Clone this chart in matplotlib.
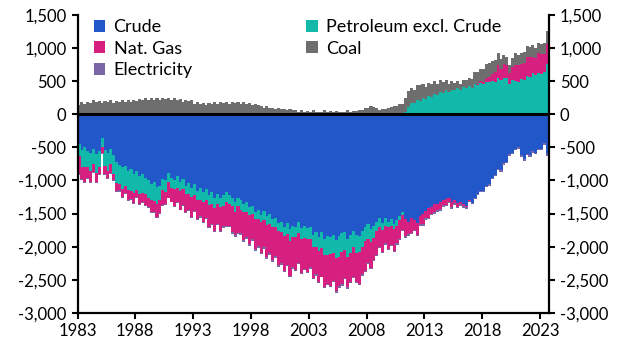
import matplotlib
matplotlib.use("Agg")
import matplotlib.pyplot as plt
import numpy as np

plt.rcParams['font.family'] = ['Lato', 'DejaVu Sans']

# quarterly values, 1983 Q1 .. 2023 Q3
crude = [
    -450, -540, -500, -560,   # 1983
    -580, -520, -600, -560,
    -360, -540, -580, -520,
    -620, -720, -760, -800,
    -780, -860, -820, -900,
    -860, -940, -900, -960,   # 1988
    -1000, -1060, -1020, -1100,
    -1080, -980, -1000, -880,
    -960, -1000, -940, -1020,
    -980, -1080, -1040, -1120,
    -1060, -1160, -1120, -1180,   # 1993
    -1130, -1220, -1180, -1260,
    -1200, -1260, -1220, -1180,
    -1220, -1260, -1320, -1260,
    -1300, -1360, -1320, -1400,
    -1380, -1480, -1440, -1520,   # 1998
    -1460, -1540, -1500, -1580,
    -1560, -1640, -1620, -1700,
    -1640, -1740, -1680, -1700,
    -1620, -1720, -1680, -1720,
    -1700, -1820, -1780, -1860,   # 2003
    -1780, -1880, -1840, -1860,
    -1820, -1900, -1840, -1800,
    -1780, -1880, -1820, -1760,
    -1820, -1840, -1760, -1700,
    -1660, -1740, -1680, -1620,   # 2008
    -1560, -1640, -1560, -1620,
    -1580, -1660, -1600, -1540,
    -1480, -1580, -1620, -1560,
    -1600, -1640, -1540, -1500,
    -1460, -1420, -1400, -1360,   # 2013
    -1360, -1320, -1300, -1280,
    -1260, -1320, -1300, -1340,
    -1320, -1360, -1380, -1300,
    -1340, -1260, -1200, -1160,
    -1160, -1080, -1060, -960,    # 2018
    -920, -820, -840, -740,
    -720, -600, -580, -520,
    -500, -620, -680, -600,
    -620, -560, -580, -520,
    -520, -440, -600,             # 2023
]

petroleum = [
    -180, -260, -300, -240,
    -280, -230, -290, -240,
    -140, -240, -280, -230,
    -280, -320, -300, -330,
    -300, -280, -340, -290,
    -280, -260, -290, -240,
    -260, -240, -290, -250,
    -220, -170, -180, -150,
    -160, -130, -170, -140,
    -150, -120, -160, -130,
    -160, -130, -170, -140,
    -160, -150, -180, -150,
    -150, -140, -170, -140,
    -140, -130, -160, -130,
    -140, -110, -150, -120,
    -130, -100, -140, -110,
    -140, -130, -160, -130,
    -140, -130, -160, -140,
    -170, -170, -180, -150,
    -170, -160, -190, -160,
    -190, -190, -230, -200,
    -240, -240, -280, -250,
    -270, -270, -310, -280,
    -270, -270, -280, -240,
    -270, -240, -250, -220,
    -230, -190, -190, -140,
    -150, -110, -120, -90,
    -110, -80, -90, -50,
    -40, 30, 110, 170,
    170, 210, 200, 250,
    230, 270, 260, 310,
    290, 330, 320, 360,
    330, 370, 360, 390,
    370, 410, 400, 420,
    390, 450, 440, 470,
    450, 490, 480, 500,
    490, 540, 510, 540,
    540, 460, 510, 500,
    480, 530, 520, 580,
    560, 620, 590, 620,
    600, 640, 760,
]

nat_gas = [
    -280, -180, -220, -170,
    -170, -120, -140, -110,
    -90, -130, -100, -130,
    -90, -120, -90, -120,
    -110, -150, -120, -150,
    -110, -150, -130, -170,
    -140, -180, -160, -200,
    -190, -220, -180, -230,
    -200, -260, -220, -280,
    -240, -280, -240, -300,
    -240, -290, -250, -310,
    -270, -330, -290, -350,
    -300, -360, -300, -360,
    -320, -390, -350, -400,
    -360, -430, -390, -440,
    -380, -450, -410, -460,
    -410, -480, -440, -490,
    -440, -510, -470, -520,
    -460, -530, -450, -500,
    -450, -510, -460, -500,
    -420, -460, -400, -470,
    -430, -490, -440, -490,
    -430, -500, -450, -490,
    -420, -460, -430, -450,
    -440, -480, -400, -440,
    -360, -390, -330, -370,
    -300, -330, -270, -330,
    -280, -320, -260, -290,
    -230, -260, -190, -230,
    -150, -180, -120, -160,
    -110, -140, -100, -120,
    -90, -110, -70, -90,
    -60, -80, -40, -60,
    -40, -30, -20, -10,
    0, 10, 20, 30,
    40, 60, 80, 100,
    150, 200, 170, 220,
    200, 160, 200, 250,
    270, 230, 260, 290,
    300, 250, 260, 310,
    310, 270, 300,
]

coal = [
    140, 180, 160, 190,
    170, 210, 180, 200,
    170, 200, 180, 210,
    170, 200, 180, 210,
    180, 210, 190, 220,
    200, 230, 210, 240,
    210, 240, 220, 250,
    220, 250, 230, 240,
    210, 240, 220, 230,
    190, 220, 200, 210,
    150, 180, 150, 170,
    140, 170, 160, 180,
    160, 190, 170, 180,
    160, 190, 170, 180,
    150, 180, 160, 170,
    140, 160, 140, 130,
    100, 120, 100, 100,
    80, 100, 80, 80,
    60, 80, 60, 60,
    40, 60, 40, 50,
    40, 60, 40, 40,
    40, 60, 40, 50,
    30, 50, 30, 40,
    40, 60, 40, 50,
    50, 70, 70, 90,
    100, 130, 110, 100,
    60, 80, 80, 100,
    110, 130, 130, 150,
    160, 210, 240, 230,
    200, 230, 240, 210,
    180, 200, 200, 190,
    170, 190, 170, 160,
    130, 130, 110, 110,
    90, 110, 110, 130,
    140, 170, 170, 190,
    190, 210, 210, 200,
    180, 180, 150, 140,
    130, 130, 140, 170,
    140, 160, 160, 160,
    150, 170, 150, 150,
    150, 170, 200,
]

electricity = [
    -10, -15, -15, -10,
    -10, -15, -15, -10,
    -15, -15, -20, -15,
    -15, -20, -20, -15,
    -15, -20, -20, -15,
    -15, -20, -20, -15,
    -15, -15, -20, -15,
    -10, -15, -15, -10,
    -10, -15, -15, -10,
    -15, -15, -20, -15,
    -15, -20, -20, -15,
    -15, -20, -25, -20,
    -20, -25, -25, -20,
    -20, -25, -25, -20,
    -20, -25, -30, -25,
    -25, -30, -30, -25,
    -25, -30, -30, -25,
    -25, -30, -30, -25,
    -20, -25, -25, -20,
    -20, -25, -25, -20,
    -20, -25, -25, -20,
    -15, -20, -20, -15,
    -20, -25, -25, -20,
    -20, -25, -25, -20,
    -20, -20, -25, -20,
    -15, -20, -20, -15,
    -15, -20, -20, -15,
    -20, -20, -25, -20,
    -20, -25, -25, -20,
    -20, -25, -25, -20,
    -20, -25, -25, -20,
    -20, -25, -25, -20,
    -20, -25, -25, -20,
    -20, -25, -25, -20,
    -20, -25, -25, -20,
    -20, -25, -25, -20,
    -20, -25, -25, -20,
    -20, -25, -25, -20,
    -20, -25, -25, -20,
    -20, -25, -25, -20,
    -20, -25, -25,
]

series = [
    ("Crude", crude, "#2157c9"),
    ("Nat. Gas", nat_gas, "#d61f7f"),
    ("Electricity", electricity, "#7b66a8"),
    ("Petroleum excl. Crude", petroleum, "#10b9a9"),
    ("Coal", coal, "#6e6e6e"),
]
# stacking order: crude, petroleum, gas, coal, electricity
stack_order = [0, 3, 1, 4, 2]

n = len(crude)
x = 1983 + 0.125 + 0.25 * np.arange(n)

fig = plt.figure(figsize=(6.25, 3.54), dpi=100)
ax = fig.add_axes([0.124, 0.116, 0.754, 0.842])

pos_base = np.zeros(n)
neg_base = np.zeros(n)
handles = {}
for i in stack_order:
    name, vals, col = series[i]
    v = np.array(vals, dtype=float)
    bottom = np.where(v >= 0, pos_base, neg_base)
    b = ax.bar(x, v, width=0.27, bottom=bottom, color=col, linewidth=0, label=name)
    handles[i] = b
    pos_base = pos_base + np.where(v >= 0, v, 0)
    neg_base = neg_base + np.where(v < 0, v, 0)

ax.axhline(0, color="black", lw=2.2, zorder=5)

ax.set_xlim(1983, 2023.75)
ax.set_ylim(-3000, 1500)
ax.set_xticks(range(1983, 2024, 5))
ax.set_yticks(range(-3000, 1501, 500))
ax.yaxis.set_major_formatter(matplotlib.ticker.FuncFormatter(lambda v, p: f"{int(v):,}"))
ax.tick_params(axis="both", labelsize=12, width=1.5, length=4, direction="out", colors="black")
ax.tick_params(axis="y", right=True, labelright=True, pad=4)
ax.tick_params(axis="x", pad=3)

for s in ["left", "right", "bottom"]:
    ax.spines[s].set_linewidth(1.6)
ax.spines["top"].set_visible(False)

leg = ax.legend([handles[i] for i in range(5)], [series[i][0] for i in range(5)],
                ncol=2, loc="upper left", frameon=False, fontsize=13,
                handlelength=0.65, handleheight=0.65, handletextpad=0.45,
                columnspacing=6.3, labelspacing=0.3,
                bbox_to_anchor=(0.0, 1.04), borderaxespad=0.5)

fig.savefig("out.png", dpi=100)
